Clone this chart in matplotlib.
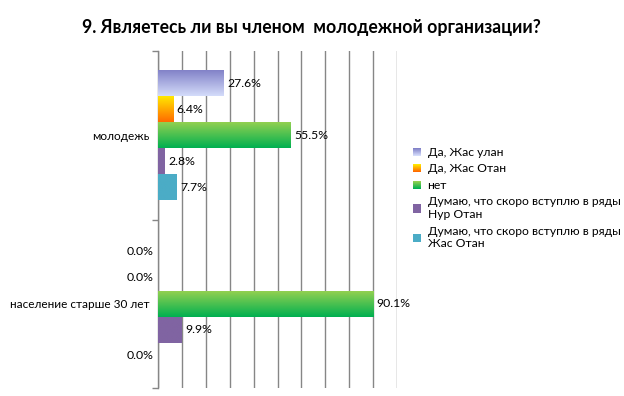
import matplotlib
matplotlib.use("Agg")
import matplotlib.pyplot as plt
import numpy as np
from matplotlib.legend_handler import HandlerBase
from matplotlib.patches import Rectangle
from matplotlib.colors import to_rgb

plt.rcParams['font.family'] = ['Lato', 'DejaVu Sans']

title = "9. Являетесь ли вы членом  молодежной организации?"
categories = ["молодежь", "население старше 30 лет"]
series_names = [
    "Да, Жас улан",
    "Да, Жас Отан",
    "нет",
    "Думаю, что скоро вступлю в ряды\nНур Отан",
    "Думаю, что скоро вступлю в ряды\nЖас Отан",
]
# values per series: [молодежь, население старше 30 лет]
s_zhas_ulan = [27.6, 0.0]
s_zhas_otan = [6.4, 0.0]
s_net = [55.5, 90.1]
s_nur_otan = [2.8, 9.9]
s_zhas_otan_future = [7.7, 0.0]
values = [s_zhas_ulan, s_zhas_otan, s_net, s_nur_otan, s_zhas_otan_future]

# (top colour, bottom colour)
colors = [
    ("#8282c8", "#d4dcfa"),
    ("#ffe800", "#ff6a00"),
    ("#92d050", "#00b050"),
    ("#8064a2", "#8064a2"),
    ("#4bacc6", "#4bacc6"),
]

fig = plt.figure(figsize=(6.24, 3.96), dpi=100)
ax = fig.add_axes([158/624, 1-388/396, (397-158)/624, (388-51)/396])

cat_y = [1, 0]
bw = 26/168.5
n = len(values)

for i, (vals, (ctop, cbot)) in enumerate(zip(values, colors)):
    ys = [cy + (n/2 - 0.5 - i) * bw for cy in cat_y]
    bars = ax.barh(ys, vals, height=bw, color='none', edgecolor='none', zorder=3)
    for rect, v, y in zip(bars, vals, ys):
        x0, y0 = rect.get_x(), rect.get_y()
        w, h = rect.get_width(), rect.get_height()
        if w > 0:
            t = np.linspace(0, 1, 64)[:, None, None]
            grad = np.array(to_rgb(cbot))[None, None, :] * (1 - t) + np.array(to_rgb(ctop))[None, None, :] * t
            ax.imshow(grad, extent=(x0, x0 + w, y0, y0 + h), origin='lower',
                      aspect='auto', zorder=3, interpolation='bilinear')
            ax.annotate(f"{v:.1f}%", xy=(v, y), xytext=(2.5, 0), textcoords='offset points',
                        ha='left', va='center', fontsize=8.8, color='#000000', zorder=5)
        else:
            ax.annotate(f"{v:.1f}%", xy=(0, y), xytext=(-3, 0), textcoords='offset points',
                        ha='right', va='center', fontsize=8.8, color='#000000', zorder=5,
                        annotation_clip=False)

ax.set_xlim(0, 100)
ax.set_ylim(-0.5, 1.5)
ax.set_xticks(np.arange(0, 101, 10))
ax.grid(axis='x', color='#868686', linewidth=1.0, zorder=0)
ax.tick_params(axis='x', length=0, labelbottom=False)

ax.set_yticks([-0.5, 0.5, 1.5])
ax.set_yticklabels([])
ax.tick_params(axis='y', which='major', length=4.5, color='#868686', width=1.0, direction='out')
ax.set_yticks(cat_y, minor=True)
ax.set_yticklabels(categories, minor=True, fontsize=8.5)
ax.tick_params(axis='y', which='minor', length=0, pad=6)

for s in ['top', 'right', 'bottom']:
    ax.spines[s].set_visible(False)
ax.spines['left'].set_color('#868686')
ax.spines['left'].set_linewidth(1.0)


class GradHandler(HandlerBase):
    def __init__(self, ctop, cbot):
        super().__init__()
        self.ctop = np.array(to_rgb(ctop))
        self.cbot = np.array(to_rgb(cbot))

    def create_artists(self, legend, orig_handle, xdescent, ydescent, width, height, fontsize, trans):
        side = 5.8
        x0 = -xdescent
        y0 = -ydescent + (height - side) / 2
        k = 8
        arts = []
        for j in range(k):
            f = j / (k - 1)
            c = self.cbot * (1 - f) + self.ctop * f
            arts.append(Rectangle((x0, y0 + side * j / k), side, side / k + 0.05,
                                  facecolor=c, edgecolor='none', transform=trans))
        return arts


handles = [Rectangle((0, 0), 1, 1) for _ in series_names]
hmap = {h: GradHandler(ct, cb) for h, (ct, cb) in zip(handles, colors)}
fig.legend(handles, series_names, handler_map=hmap, loc='upper left',
           bbox_to_anchor=(413/624, 1-147/396), frameon=False, fontsize=8.7,
           handlelength=0.9, handleheight=0.7, handletextpad=0.3,
           labelspacing=0.45, borderpad=0, borderaxespad=0)

fig.text(311/624, 1-28/396, title, ha='center', va='center', fontsize=12.7,
         fontweight='bold', color='#000000')

fig.savefig("out.png", dpi=100)
